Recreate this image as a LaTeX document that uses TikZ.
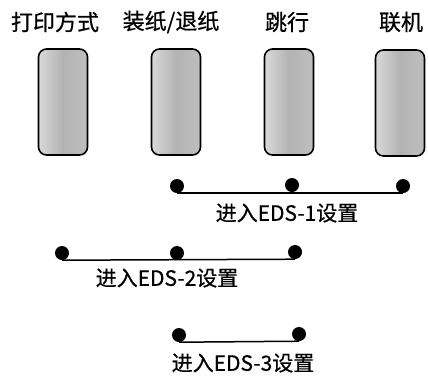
\documentclass[tikz,border=0pt]{standalone}
\usepackage{fontspec}
\newfontfamily\cjk[FakeBold=0.6]{Noto Sans CJK SC}
\begin{document}
\begin{tikzpicture}[x=1pt,y=-1pt,
  keybox/.style={draw=black,line width=1.6pt,rounded corners=8pt,minimum width=49pt,minimum height=106pt,
    inner sep=0pt,left color=gray!30,right color=gray!50,middle color=gray!60},
  keylabel/.style={font=\cjk\fontsize{22}{24}\selectfont,inner sep=0pt},
  dot/.style={circle,fill=black,minimum size=14pt,inner sep=0pt},
  bar/.style={line width=1.5pt},
  edslabel/.style={font=\cjk\fontsize{21}{24}\selectfont,inner sep=0pt}]
\useasboundingbox (0,0) rectangle (428,376);
% key labels
\node[keylabel] (l1) at (55,22) {打印方式};
\node[keylabel] (l2) at (171,22) {装纸/退纸};
\node[keylabel] (l3) at (287,22) {跳行};
\node[keylabel] (l4) at (401,22) {联机};
% keys
\node[keybox] (k1) at (63,102) {};
\node[keybox] (k2) at (176,102) {};
\node[keybox] (k3) at (289,102) {};
\node[keybox] (k4) at (400,103) {};
% EDS-1
\node[dot] (a1) at (177,186) {};
\node[dot] (a2) at (292,185) {};
\node[dot] (a3) at (403,186) {};
\draw[bar] (a1.south) -- (a3.south);
\node[edslabel] (t1) at (287,213) {进入EDS-1设置};
% EDS-2
\node[dot] (b1) at (62,253) {};
\node[dot] (b2) at (177,253) {};
\node[dot] (b3) at (295,252) {};
\draw[bar] (b1.south) -- (b3.south);
\node[edslabel] (t2) at (167,278) {进入EDS-2设置};
% EDS-3
\node[dot] (c1) at (179,335) {};
\node[dot] (c2) at (299,334) {};
\draw[bar] (c1.south) -- (c2.south);
\node[edslabel] (t3) at (243,363) {进入EDS-3设置};
\end{tikzpicture}
\end{document}
